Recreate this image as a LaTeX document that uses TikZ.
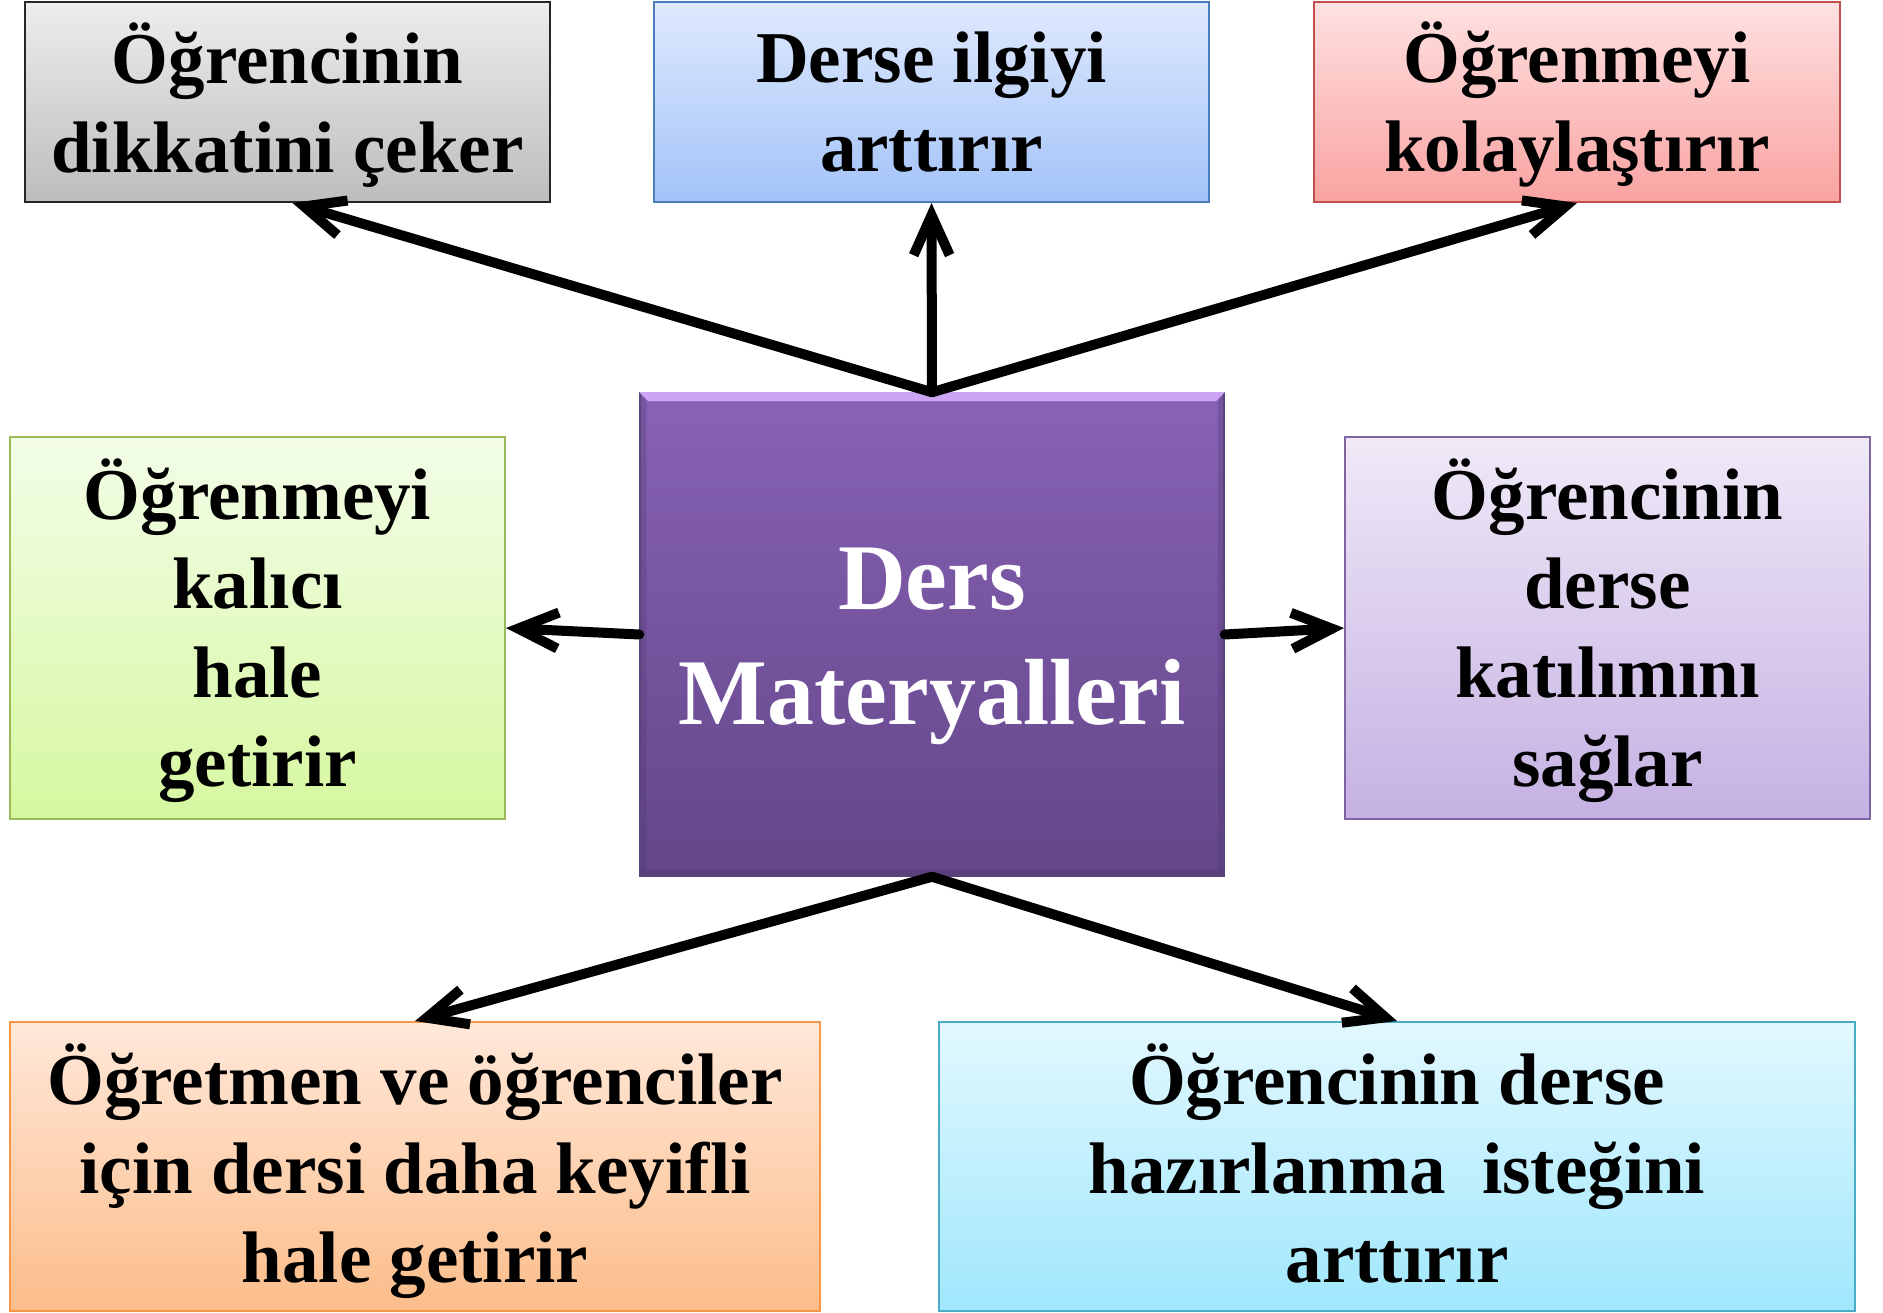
\documentclass[tikz,border=0pt]{standalone}
\usepackage{fontspec}
\setmainfont{Liberation Serif}
\usetikzlibrary{arrows.meta,calc}
\definecolor{graytop}{HTML}{EDEDED}
\definecolor{graybot}{HTML}{BDBDBD}
\definecolor{graybd}{HTML}{262626}
\definecolor{bluetop}{HTML}{DFE9FD}
\definecolor{bluebot}{HTML}{A3C3F9}
\definecolor{bluebd}{HTML}{4A7EBB}
\definecolor{redtop}{HTML}{FEE1E1}
\definecolor{redbot}{HTML}{F9A3A1}
\definecolor{redbd}{HTML}{C0504D}
\definecolor{greentop}{HTML}{F3FDE8}
\definecolor{greenbot}{HTML}{D6F8A0}
\definecolor{greenbd}{HTML}{9BBB59}
\definecolor{lavtop}{HTML}{EFE9F7}
\definecolor{lavbot}{HTML}{C5B1E3}
\definecolor{lavbd}{HTML}{8064A2}
\definecolor{orgtop}{HTML}{FFE8D9}
\definecolor{orgbot}{HTML}{FCBD8A}
\definecolor{orgbd}{HTML}{F79646}
\definecolor{cyantop}{HTML}{E2F8FE}
\definecolor{cyanbot}{HTML}{A0E7FD}
\definecolor{cyanbd}{HTML}{4BACC6}
\definecolor{purptop}{HTML}{8862B6}
\definecolor{purpbot}{HTML}{634688}
\definecolor{purpbd}{HTML}{5F4A85}
\definecolor{bevlight}{HTML}{CDA5F5}
\begin{document}
\begin{tikzpicture}[x=1pt,y=-1pt,
  box/.style={line width=2pt, inner sep=0pt, align=center,
    font=\fontsize{73}{89}\selectfont\bfseries, text=black},
  conn/.style={line width=10pt, line cap=round,
    -{Straight Barb[length=40pt,width=36pt]}}]
\useasboundingbox (0,0) rectangle (1883,1313);

\node[box, draw=graybd, top color=graytop, bottom color=graybot,
  minimum width=525pt, minimum height=200pt, text height=162pt, text depth=20pt] (g) at (287.5,102)
  {Öğrencinin\\dikkatini çeker};
\node[box, draw=bluebd, top color=bluetop, bottom color=bluebot,
  minimum width=555pt, minimum height=200pt, text height=159pt, text depth=20pt] (b) at (931.5,102)
  {Derse ilgiyi\\arttırır};
\node[box, draw=redbd, top color=redtop, bottom color=redbot,
  minimum width=526pt, minimum height=200pt, text height=160pt, text depth=20pt] (r) at (1577,102)
  {Öğrenmeyi\\kolaylaştırır};
\node[box, draw=greenbd, top color=greentop, bottom color=greenbot,
  minimum width=495pt, minimum height=382pt, text height=336pt, text depth=20pt] (gr) at (257.5,628)
  {Öğrenmeyi\\kalıcı\\hale\\getirir};
\node[box, draw=lavbd, top color=lavtop, bottom color=lavbot,
  minimum width=525pt, minimum height=382pt, text height=336pt, text depth=20pt] (lv) at (1607.5,628)
  {Öğrencinin\\derse\\katılımını\\sağlar};
\node[box, draw=orgbd, top color=orgtop, bottom color=orgbot,
  minimum width=810pt, minimum height=289pt, text height=251pt, text depth=20pt] (o) at (415,1166.5)
  {Öğretmen ve öğrenciler\\için dersi daha keyifli\\hale getirir};
\node[box, draw=cyanbd, top color=cyantop, bottom color=cyanbot,
  minimum width=916pt, minimum height=289pt, text height=251pt, text depth=20pt] (cy) at (1397,1166.5)
  {Öğrencinin derse\\hazırlanma\ \ isteğini\\arttırır};

\node[box, draw=purpbd, line width=1.5pt, top color=purptop, bottom color=purpbot,
  minimum width=584pt, minimum height=483pt, text height=204pt, text depth=25pt,
  font=\fontsize{94}{115}\selectfont\bfseries, text=white] (c) at (932,634.5)
  {Ders\\Materyalleri};
\fill[bevlight] (c.north west) -- (c.north east)
  -- ([xshift=-9pt,yshift=-9pt]c.north east)
  -- ([xshift=9pt,yshift=-9pt]c.north west) -- cycle;
\fill[purpbot!85!black, opacity=0.5] (c.south west) -- (c.south east)
  -- ([xshift=-7pt,yshift=7pt]c.south east)
  -- ([xshift=7pt,yshift=7pt]c.south west) -- cycle;
\fill[purpbot!80!black, opacity=0.3] (c.north west) -- ([xshift=7pt,yshift=-9pt]c.north west)
  -- ([xshift=7pt,yshift=7pt]c.south west) -- (c.south west) -- cycle;
\fill[purpbot!80!black, opacity=0.3] (c.north east) -- ([xshift=-7pt,yshift=-9pt]c.north east)
  -- ([xshift=-7pt,yshift=7pt]c.south east) -- (c.south east) -- cycle;

\draw[conn] (c.north) -- ([xshift=5pt]g.south);
\draw[conn] (c.north) -- (b.south);
\draw[conn] (c.north) -- (r.south);
\draw[conn] (c.west) -- (gr.east);
\draw[conn] (c.east) -- (lv.west);
\draw[conn] (c.south) -- (o.north);
\draw[conn] (c.south) -- (cy.north);
\end{tikzpicture}
\end{document}
